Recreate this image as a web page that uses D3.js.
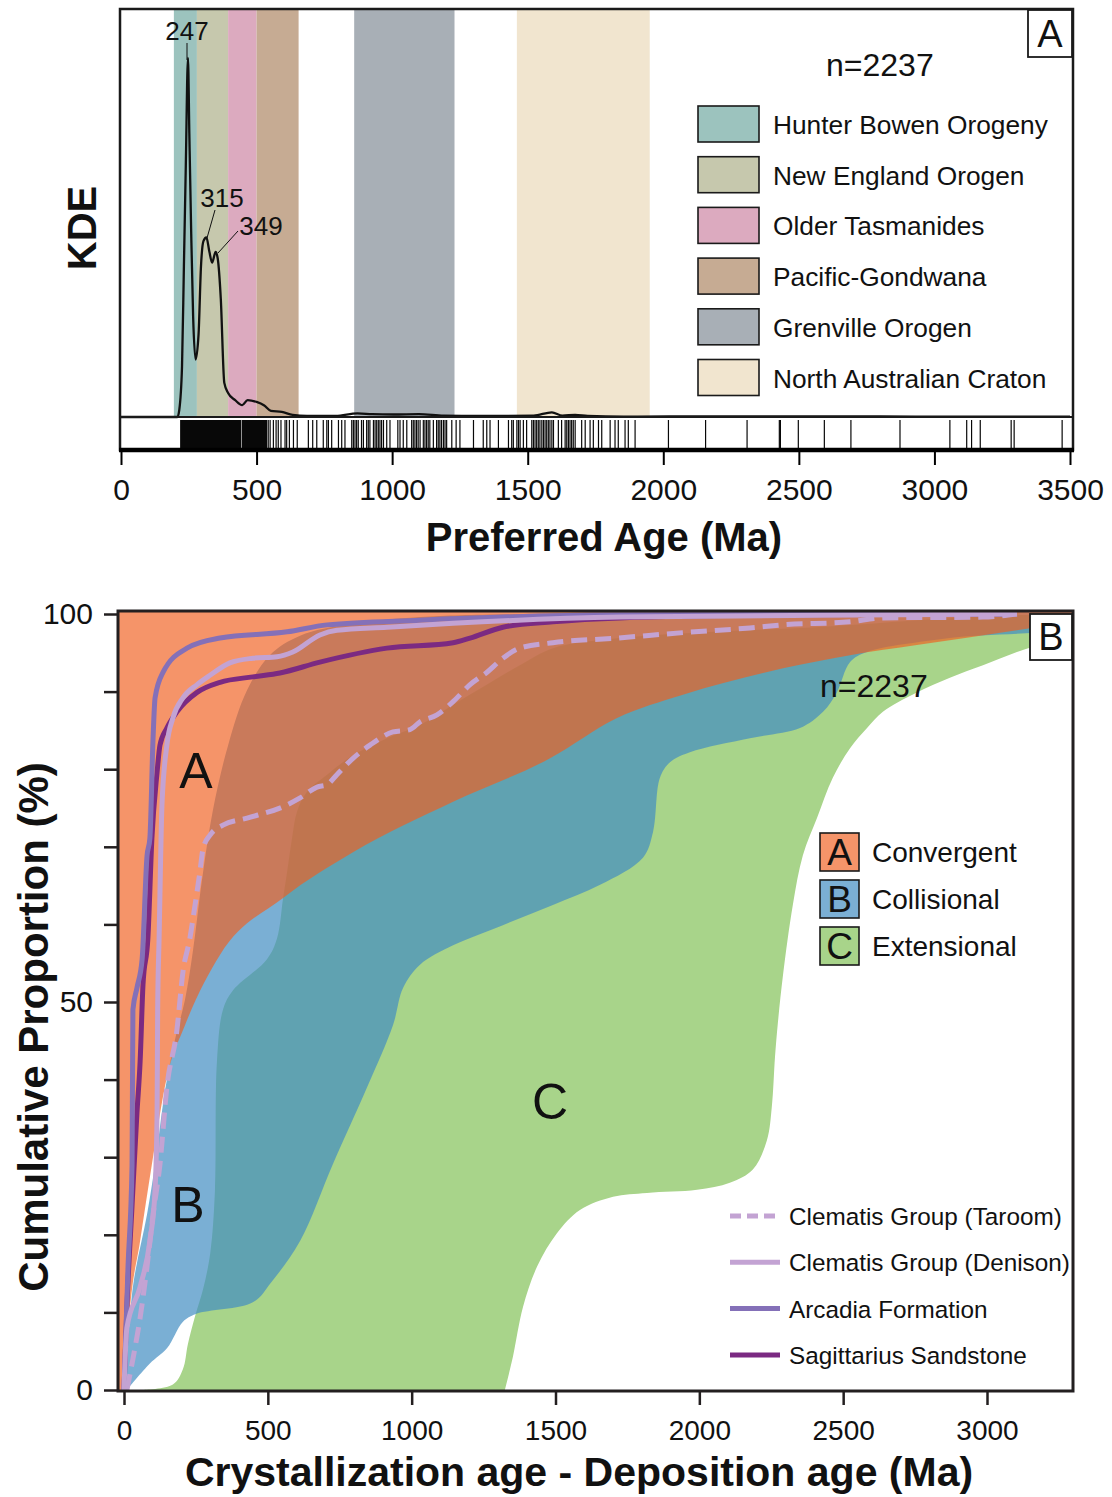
<!DOCTYPE html>
<html>
<head>
<meta charset="utf-8">
<title>Detrital zircon KDE and cumulative proportion plot</title>
<style>
  body { margin: 0; background: #fff; }
  svg text { font-family: 'Liberation Sans', Arial, sans-serif; fill: #111; }
</style>
</head>
<body>
<svg id="fig" width="1112" height="1497"></svg>
<script src="https://d3js.org/d3.v7.min.js"></script>
<script>
// ---------- panel A data ----------
var bandNames = ["Hunter Bowen Orogeny", "New England Orogen", "Older Tasmanides",
                 "Pacific-Gondwana", "Grenville Orogen", "North Australian Craton"];
var bandStart = [195, 280, 395, 500, 860, 1460];
var bandEnd   = [280, 395, 500, 655, 1230, 1950];
var bandColors = ["#9cc3be", "#c6c8ad", "#dcaabf", "#c6ab93", "#a8afb6", "#f1e5cf"];

var kdeAge = [0, 200, 208, 215, 225, 232, 239, 247, 252, 259, 266, 275, 286, 295, 304, 315,
              326, 336, 349, 357, 368, 381, 395, 421, 447, 467, 500, 527, 553, 593, 633, 686,
              792, 872, 926, 1005, 1098, 1190, 1324, 1522, 1589, 1628, 1675, 1721, 1854,
              2200, 2600, 3000, 3500];
var kdeDensity = [0, 0, 0, 0.02, 0.14, 0.42, 0.70, 1.0, 0.79, 0.51, 0.28, 0.16, 0.23, 0.42, 0.49, 0.50,
                  0.46, 0.43, 0.46, 0.44, 0.33, 0.095, 0.067, 0.047, 0.033, 0.047, 0.042, 0.033, 0.017, 0.014, 0.006, 0.003,
                  0.003, 0.01, 0.008, 0.007, 0.008, 0.004, 0.003, 0.004, 0.013, 0.004, 0.006, 0.003, 0.001,
                  0.002, 0.002, 0.001, 0.001];

var peakAges = [247, 315, 349];

// rug: solid blocks where ticks merge, then individual ages
var rugBlocks = [[218, 444], [446, 537]];
var rugAges = [537, 543, 550, 562, 572, 580, 590, 605, 611, 621, 636, 650, 691, 707, 722, 746, 759, 765,
  777, 802, 814, 826, 851, 857, 863, 869, 875, 887, 894, 906, 912, 918, 931, 937, 943, 949, 955, 961,
  968, 980, 992, 1021, 1029, 1041, 1054, 1072, 1078, 1084, 1090, 1096, 1103, 1115, 1121, 1127, 1133,
  1139, 1152, 1164, 1170, 1176, 1182, 1189, 1195, 1201, 1220, 1236, 1250, 1300, 1336, 1349, 1361, 1392,
  1429, 1441, 1447, 1460, 1466, 1472, 1484, 1496, 1515, 1521, 1527, 1533, 1539, 1545, 1552, 1558, 1564,
  1570, 1576, 1582, 1589, 1595, 1613, 1625, 1638, 1644, 1650, 1656, 1662, 1668, 1675, 1699, 1712, 1730,
  1742, 1761, 1773, 1804, 1822, 1834, 1859, 1871, 1896, 2019, 2156, 2309, 2428, 2432, 2498, 2594, 2692,
  2873, 3057, 3119, 3137, 3169, 3283, 3294, 3471];

var topTicks = [0, 500, 1000, 1500, 2000, 2500, 3000, 3500];

// ---------- panel B data (age difference Ma, cumulative %) ----------
// A: convergent field, lower boundary (field fills everything above it)
var convAge = [-21, 0, 21, 56, 97, 149, 212, 334, 553, 796, 1144, 1481, 1714, 1943, 2291, 2524, 2756, 3104, 3300];
var convPct = [0, 0, 10.6, 19.2, 29.1, 40.3, 47.0, 56.1, 63.4, 69.3, 75.8, 81.4, 86.6, 89.6, 93.0, 94.7, 96.0, 97.9, 99.0];

// B: collisional field, upper and lower boundaries
var collUpAge = [5, 31, 80, 108, 143, 177, 212, 240, 271, 309, 362, 428, 507, 612, 786, 1029, 1377, 3300];
var collUpPct = [0, 13.3, 22.6, 29.1, 38.7, 45.1, 50.3, 56.7, 65.7, 74.7, 83.1, 90.2, 94.7, 97.2, 98.7, 99.6, 100, 100];
var collLoAge = [10, 90, 150, 205, 250, 448, 510, 612, 726, 845, 935, 970, 1029, 1144, 1317, 1491, 1655, 1804, 1839, 1863,
                 1898, 1967, 2176, 2350, 2430, 2478, 2524, 2583, 2871, 3300];
var collLoPct = [0, 3.4, 5.4, 8.8, 9.8, 11.3, 13.8, 19.2, 29.1, 39.0, 47.0, 51.8, 54.8, 57.3, 59.9, 62.5, 65.1, 68.6, 71.9, 78.9,
                 80.9, 82.2, 84.0, 85.3, 87.4, 89.9, 93.8, 95.1, 96.9, 98.6];

// C: extensional field, upper and lower boundaries
var extUpAge = [66, 170, 205, 222, 247, 275, 300, 316, 323, 344, 379, 497, 532, 553, 567, 584, 601, 636, 706,
                796, 914, 1029, 1144, 1262, 1376, 1491, 1724, 2350, 3300];
var extUpPct = [0, 0.7, 2.7, 5.9, 9.5, 13.0, 17.7, 25.6, 42.3, 49.0, 51.5, 55.5, 58.2, 63.4, 66.8, 71.1, 74.5, 77.1, 79.3,
                81.8, 84.0, 85.7, 88.3, 90.9, 93.4, 95.6, 96.9, 98.2, 99.2];
var extLoAge = [1324, 1352, 1387, 1436, 1505, 1585, 1700, 1818, 1992, 2106, 2186, 2235, 2252, 2263, 2273, 2291,
                2325, 2360, 2409, 2464, 2524, 2583, 2638, 2756, 2871, 2986, 3104, 3300];
var extLoPct = [0, 4.3, 10.7, 15.9, 20.2, 23.2, 24.9, 25.4, 25.8, 26.7, 28.4, 32.2, 36.5, 42.9, 47.3, 53.5,
                62.5, 68.9, 73.7, 78.9, 82.7, 85.3, 87.4, 89.9, 91.8, 93.4, 95.1, 97.9];

// sample curves
var sagAge = [0, 10, 28, 45, 56, 66, 83, 97, 115, 125, 149, 184, 254, 334, 448, 542, 681, 914, 1144, 1203, 1317, 1491, 1724, 2350, 3104];
var sagPct = [0, 10.6, 23.8, 35.7, 42.3, 52.2, 58.2, 71.1, 79.6, 83.1, 85.3, 87.4, 89.9, 91.2, 91.9, 92.4, 93.8, 95.6, 96.3, 96.9, 98.3, 99.0, 99.5, 99.9, 100];
var arcAge = [0, 14, 28, 31, 45, 63, 80, 90, 101, 108, 136, 219, 334, 567, 706, 1029, 1724, 3104];
var arcPct = [0, 15.9, 29.1, 49.0, 51.8, 55.5, 68.8, 71.1, 84.0, 89.2, 92.5, 95.6, 96.9, 97.7, 98.6, 99.2, 99.9, 100];
var denAge = [0, 10, 56, 90, 108, 115, 117, 122, 132, 149, 170, 205, 254, 299, 368, 448, 532, 587, 681, 740, 914, 1144, 1724, 2697, 3104];
var denPct = [0, 8.0, 13.3, 19.2, 25.8, 35.7, 49.0, 58.2, 75.4, 83.1, 86.6, 89.2, 90.9, 92.1, 93.7, 94.3, 94.5, 95.1, 97.3, 97.9, 98.3, 98.8, 99.6, 99.9, 100];
var tarAge = [10, 31, 56, 80, 101, 125, 149, 184, 205, 229, 247, 264, 275, 299, 344, 428, 567, 612, 671, 706, 740,
              796, 855, 935, 994, 1029, 1088, 1144, 1203, 1262, 1317, 1376, 1491, 1714, 1943, 2176, 2291, 2524, 2638, 2986, 3104];
var tarPct = [0, 4.0, 9.3, 15.9, 22.6, 29.1, 39.0, 46.4, 53.9, 58.2, 62.5, 66.8, 69.8, 71.5, 72.8, 73.7, 75.4, 76.3, 77.7, 78.0, 79.3,
              81.4, 83.1, 84.8, 85.1, 86.1, 87.0, 88.7, 90.9, 92.5, 94.3, 95.6, 96.3, 96.9, 97.6, 98.2, 98.6, 99.0, 99.5, 99.6, 100];

var fieldNames = ["Convergent", "Collisional", "Extensional"];
var fieldLetters = ["A", "B", "C"];
var fieldSwatch = ["#f59469", "#7bafd4", "#a8d48a"];

var sampleNames = ["Clematis Group (Taroom)", "Clematis Group (Denison)", "Arcadia Formation", "Sagittarius Sandstone"];
var sampleColors = ["#c3a3d3", "#c3a3d3", "#8470b8", "#7b2a82"];
var sampleDash = ["16,8", null, null, null];

var bottomTicks = [0, 500, 1000, 1500, 2000, 2500, 3000];
var yTicks = [0, 10, 20, 30, 40, 50, 60, 70, 80, 90, 100];

// ---------- drawing ----------
var svg = d3.select("#fig");

function pts(ages, vals) {
  return ages.map(function(a, i) { return [a, vals[i]]; });
}

// ===== Panel A =====
var xTop = d3.scaleLinear().domain([0, 3500]).range([121, 1070]);
var yKde = d3.scaleLinear().domain([0, 1]).range([417, 58]);

var gA = svg.append("g");

gA.selectAll("rect.band")
  .data(bandNames)
  .enter().append("rect")
  .attr("class", "band")
  .attr("x", function(d, i) { return xTop(bandStart[i]); })
  .attr("width", function(d, i) { return xTop(bandEnd[i]) - xTop(bandStart[i]); })
  .attr("y", 10)
  .attr("height", 407)
  .attr("fill", function(d, i) { return bandColors[i]; });

var kdeLine = d3.line()
  .x(function(d) { return xTop(d[0]); })
  .y(function(d) { return yKde(d[1]); })
  .curve(d3.curveMonotoneX);

gA.append("path")
  .attr("d", kdeLine(pts(kdeAge, kdeDensity)))
  .attr("fill", "none")
  .attr("stroke", "#111")
  .attr("stroke-width", 2.3);

// rug
gA.selectAll("rect.rugblock")
  .data(rugBlocks)
  .enter().append("rect")
  .attr("x", function(d) { return xTop(d[0]); })
  .attr("width", function(d) { return xTop(d[1]) - xTop(d[0]); })
  .attr("y", 420)
  .attr("height", 28)
  .attr("fill", "#080808");

gA.selectAll("line.rug")
  .data(rugAges)
  .enter().append("line")
  .attr("x1", function(d) { return xTop(d); })
  .attr("x2", function(d) { return xTop(d); })
  .attr("y1", 420)
  .attr("y2", 448)
  .attr("stroke", "#080808")
  .attr("stroke-width", 1.2);

// frame, separators
gA.append("rect")
  .attr("x", 120).attr("y", 9).attr("width", 953).attr("height", 441)
  .attr("fill", "none").attr("stroke", "#1a1a1a").attr("stroke-width", 2.5);
gA.append("line")
  .attr("x1", 120).attr("x2", 1073).attr("y1", 417).attr("y2", 417)
  .attr("stroke", "#1a1a1a").attr("stroke-width", 2.2);
gA.append("line")
  .attr("x1", 119).attr("x2", 1074).attr("y1", 450).attr("y2", 450)
  .attr("stroke", "#000").attr("stroke-width", 4.5);

var axTop = gA.append("g")
  .attr("transform", "translate(0,452)")
  .call(d3.axisBottom(xTop).tickValues(topTicks).tickSize(13).tickPadding(14).tickFormat(d3.format("d")));
axTop.select(".domain").remove();
axTop.selectAll("line").attr("stroke", "#000").attr("stroke-width", 2);
axTop.selectAll("text").style("font-size", "30px").attr("fill", "#111");

gA.append("text")
  .attr("x", 604).attr("y", 551)
  .attr("text-anchor", "middle")
  .style("font-size", "40px").style("font-weight", "bold")
  .text("Preferred Age (Ma)");

gA.append("text")
  .attr("transform", "translate(96,228) rotate(-90)")
  .attr("text-anchor", "middle")
  .style("font-size", "40px").style("font-weight", "bold")
  .text("KDE");

// peak annotations
var peakLabelX = [187, 222, 261];
var peakLabelY = [40, 207, 235];
var peakLeader = [[[187, 43], [187, 60]], [[215, 210], [207, 238]], [[238, 231], [218, 253]]];
peakAges.forEach(function(p, i) {
  gA.append("text")
    .attr("x", peakLabelX[i]).attr("y", peakLabelY[i])
    .attr("text-anchor", "middle")
    .style("font-size", "26px")
    .text(p);
  gA.append("line")
    .attr("x1", peakLeader[i][0][0]).attr("y1", peakLeader[i][0][1])
    .attr("x2", peakLeader[i][1][0]).attr("y2", peakLeader[i][1][1])
    .attr("stroke", "#111").attr("stroke-width", 1);
});

gA.append("text")
  .attr("x", 826).attr("y", 76)
  .style("font-size", "32px")
  .text("n=2237");

// legend
var legTop = gA.selectAll("g.legtop")
  .data(bandNames)
  .enter().append("g")
  .attr("transform", function(d, i) { return "translate(698," + (106 + i * 50.7) + ")"; });
legTop.append("rect")
  .attr("width", 61).attr("height", 36)
  .attr("fill", function(d, i) { return bandColors[i]; })
  .attr("stroke", "#1a1a1a").attr("stroke-width", 1.6);
legTop.append("text")
  .attr("x", 75).attr("y", 28)
  .style("font-size", "26.3px")
  .text(function(d) { return d; });

gA.append("rect")
  .attr("x", 1028).attr("y", 10).attr("width", 44).attr("height", 47)
  .attr("fill", "#fff").attr("stroke", "#1a1a1a").attr("stroke-width", 1.8);
gA.append("text")
  .attr("x", 1050).attr("y", 47).attr("text-anchor", "middle")
  .style("font-size", "38px").text("A");

// ===== Panel B =====
var x = d3.scaleLinear().domain([0, 3000]).range([124, 987]);
var y = d3.scaleLinear().domain([0, 100]).range([1390, 614]);

var gB = svg.append("g");

gB.append("clipPath").attr("id", "plotclip")
  .append("rect").attr("x", 118).attr("y", 611).attr("width", 955).attr("height", 780);

var fields = gB.append("g").attr("clip-path", "url(#plotclip)");

var poly = d3.line()
  .x(function(d) { return x(d[0]); })
  .y(function(d) { return y(d[1]); })
  .curve(d3.curveCatmullRom.alpha(0.5));

// C extensional (bottom layer)
var extPoly = pts(extUpAge, extUpPct).concat(pts(extLoAge, extLoPct).reverse());
fields.append("path")
  .attr("d", poly(extPoly) + "Z")
  .attr("fill", "#a8d48a");

// B collisional
var collPoly = pts(collUpAge, collUpPct).concat(pts(collLoAge, collLoPct).reverse());
fields.append("path")
  .attr("d", poly(collPoly) + "Z")
  .attr("fill", "rgb(66,141,194)")
  .attr("fill-opacity", 0.7);

// A convergent (everything above its lower boundary)
var convArea = d3.area()
  .x(function(d) { return x(d[0]); })
  .y0(function(d) { return y(d[1]); })
  .y1(y(101))
  .curve(d3.curveMonotoneX);
fields.append("path")
  .attr("d", convArea(pts(convAge, convPct)))
  .attr("fill", "rgb(240,96,31)")
  .attr("fill-opacity", 0.67);

// sample curves
var cumLine = d3.line()
  .x(function(d) { return x(d[0]); })
  .y(function(d) { return y(d[1]); })
  .curve(d3.curveMonotoneX);

var sampleData = [pts(tarAge, tarPct), pts(denAge, denPct), pts(arcAge, arcPct), pts(sagAge, sagPct)];
var drawOrder = [3, 2, 1, 0];
drawOrder.forEach(function(k) {
  fields.append("path")
    .attr("d", cumLine(sampleData[k]))
    .attr("fill", "none")
    .attr("stroke", sampleColors[k])
    .attr("stroke-width", 5)
    .attr("stroke-dasharray", sampleDash[k]);
});

// region letters
var regionLetterPos = [[196, 788], [188, 1222], [550, 1119]];
fieldLetters.forEach(function(l, i) {
  gB.append("text")
    .attr("x", regionLetterPos[i][0]).attr("y", regionLetterPos[i][1])
    .attr("text-anchor", "middle")
    .style("font-size", "50px")
    .text(l);
});

gB.append("text")
  .attr("x", 820).attr("y", 697)
  .style("font-size", "32px")
  .text("n=2237");

// field legend
var legB = gB.selectAll("g.legfield")
  .data(fieldNames)
  .enter().append("g")
  .attr("transform", function(d, i) { return "translate(820," + (833 + i * 47) + ")"; });
legB.append("rect")
  .attr("width", 39).attr("height", 38)
  .attr("fill", function(d, i) { return fieldSwatch[i]; })
  .attr("stroke", "#1a1a1a").attr("stroke-width", 1.6);
legB.append("text")
  .attr("x", 19.5).attr("y", 32)
  .attr("text-anchor", "middle")
  .style("font-size", "37px")
  .text(function(d, i) { return fieldLetters[i]; });
legB.append("text")
  .attr("x", 52).attr("y", 29)
  .style("font-size", "28px")
  .text(function(d) { return d; });

// sample legend
var legS = gB.selectAll("g.legsample")
  .data(sampleNames)
  .enter().append("g")
  .attr("transform", function(d, i) { return "translate(730," + (1216 + i * 46.3) + ")"; });
legS.append("line")
  .attr("x1", 0).attr("x2", 50).attr("y1", 0).attr("y2", 0)
  .attr("stroke", function(d, i) { return sampleColors[i]; })
  .attr("stroke-width", 5)
  .attr("stroke-dasharray", function(d, i) { return sampleDash[i] ? "11,6" : null; });
legS.append("text")
  .attr("x", 59).attr("y", 9)
  .style("font-size", "24.3px")
  .text(function(d) { return d; });

// frame
gB.append("rect")
  .attr("x", 118).attr("y", 611).attr("width", 955).attr("height", 780)
  .attr("fill", "none").attr("stroke", "#231f20").attr("stroke-width", 3);

gB.append("rect")
  .attr("x", 1030).attr("y", 614).attr("width", 42).attr("height", 46)
  .attr("fill", "#fff").attr("stroke", "#1a1a1a").attr("stroke-width", 1.8);
gB.append("text")
  .attr("x", 1051).attr("y", 650).attr("text-anchor", "middle")
  .style("font-size", "38px").text("B");

// axes
var axB = gB.append("g")
  .attr("transform", "translate(0,1391)")
  .call(d3.axisBottom(x).tickValues(bottomTicks).tickSize(14).tickPadding(15).tickFormat(d3.format("d")));
axB.select(".domain").remove();
axB.selectAll("line").attr("stroke", "#231f20").attr("stroke-width", 2.5);
axB.selectAll("text").style("font-size", "28px").attr("fill", "#111");

var axL = gB.append("g")
  .attr("transform", "translate(118,0)")
  .call(d3.axisLeft(y).tickValues(yTicks).tickSize(14).tickPadding(11)
    .tickFormat(function(d) { return (d % 50 === 0) ? d : ""; }));
axL.select(".domain").remove();
axL.selectAll("line").attr("stroke", "#231f20").attr("stroke-width", 2.5);
axL.selectAll("text").style("font-size", "30px").attr("fill", "#111");

gB.append("text")
  .attr("x", 579).attr("y", 1486)
  .attr("text-anchor", "middle")
  .style("font-size", "41px").style("font-weight", "bold")
  .text("Crystallization age - Deposition age (Ma)");

gB.append("text")
  .attr("transform", "translate(48,1027) rotate(-90)")
  .attr("text-anchor", "middle")
  .style("font-size", "42px").style("font-weight", "bold")
  .text("Cumulative Proportion (%)");
</script>
</body>
</html>
